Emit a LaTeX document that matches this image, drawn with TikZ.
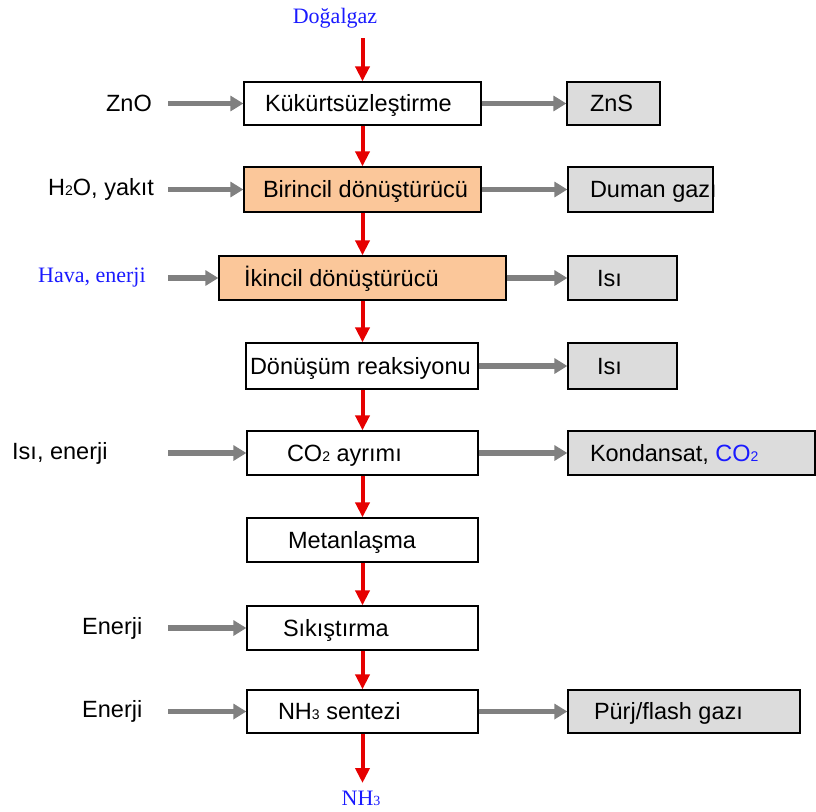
\documentclass[tikz,border=0pt]{standalone}
\usepackage{fontspec}
\setmainfont{Liberation Sans}
\newfontfamily\serifblue{Liberation Serif}
\usetikzlibrary{arrows.meta}
\definecolor{orng}{HTML}{FBC79A}
\definecolor{boxgray}{HTML}{DCDCDC}
\definecolor{arrgray}{HTML}{808080}
\definecolor{arrred}{HTML}{E60000}
\definecolor{txtblue}{HTML}{1A1AFF}
\newcommand\subdig[1]{{\fontsize{14}{14}\selectfont #1}}
\newcommand\padtext[3]{\makebox[#1pt][l]{\hspace*{#2pt}#3}}
\begin{document}
\begin{tikzpicture}[x=1pt,y=-1pt,
  box/.style={draw=black, line width=1.3pt, inner sep=0pt, minimum height=44pt,
    text height=19.5pt, text depth=3pt, font=\fontsize{23.5}{26}\selectfont},
  plain/.style={box, fill=white},
  hot/.style={box, fill=orng},
  outbox/.style={box, fill=boxgray},
  sidelabel/.style={inner sep=0pt, font=\fontsize{23.5}{26}\selectfont},
  bluelabel/.style={inner sep=0pt, text=txtblue, font=\serifblue\fontsize{22}{24}\selectfont},
  redarrow/.style={draw=arrred, line width=4pt, -{Triangle[length=15pt,width=14pt]}},
  grayarrow/.style={draw=arrgray, line width=5.5pt, -{Triangle[length=13pt,width=15pt]}}]
\useasboundingbox (0,0) rectangle (816,811);

% main column
\node[plain, minimum height=43pt] (b1) at (362.5,103.5) {\padtext{237}{21}{Kükürtsüzleştirme}};
\node[hot, minimum height=45pt] (b2) at (362.5,189.5) {\padtext{237}{19}{Birincil dönüştürücü}};
\node[hot] (b3) at (362.5,278) {\padtext{287}{25}{İkincil dönüştürücü}};
\node[plain, minimum height=46pt] (b4) at (362,366) {\padtext{232}{4}{Dönüşüm reaksiyonu}};
\node[plain] (b5) at (362.5,453) {\padtext{231}{40}{CO\subdig{2} ayrımı}};
\node[plain] (b6) at (362.5,540) {\padtext{231}{41}{Metanlaşma}};
\node[plain] (b7) at (362.5,628) {\padtext{231}{36}{Sıkıştırma}};
\node[plain, minimum height=43pt] (b8) at (362.5,711.5) {\padtext{231}{31}{NH\subdig{3} sentezi}};

% outputs
\node[outbox, minimum height=43pt] (r1) at (613.5,103.5) {\padtext{93}{23}{ZnS}};
\node[outbox, minimum height=45pt] (r2) at (640.5,189.5) {\padtext{145}{22}{Duman gazı}};
\node[outbox] (r3) at (622.5,278) {\padtext{109}{29}{Isı}};
\node[outbox, minimum height=46pt] (r4) at (622.5,366) {\padtext{109}{29}{Isı}};
\node[outbox] (r5) at (691.5,453) {\padtext{247}{22}{Kondansat, \textcolor{txtblue}{CO\subdig{2}}}};
\node[outbox, minimum height=43pt] (r8) at (684,711.5) {\padtext{232}{26}{Pürj/flash gazı}};

% inputs
\node[sidelabel, anchor=east] (l1) at (152,103.5) {ZnO};
\node[sidelabel, anchor=west] (l2) at (48,189.5) {H\subdig{2}O, yakıt};
\node[bluelabel, anchor=west] (l3) at (38,278) {Hava, enerji};
\node[sidelabel, anchor=west] (l5) at (12,453) {Isı, enerji};
\node[sidelabel, anchor=west] (l7) at (82,628) {Enerji};
\node[sidelabel, anchor=west] (l8) at (82,711.5) {Enerji};

\node[bluelabel] (top) at (335,18) {Doğalgaz};
\node[bluelabel] (bot) at (361,798) {NH\subdig{3}};

% free ends
\coordinate (rtop) at (362.5,38);
\coordinate (rbot) at (362.5,783);
\coordinate (s1) at (168,103.5);
\coordinate (s2) at (168,189.5);
\coordinate (s3) at (168,278);
\coordinate (s5) at (168,453);
\coordinate (s7) at (168,628);
\coordinate (s8) at (168,711.5);

% red flow
\draw[redarrow] (rtop) -- (b1.north);
\draw[redarrow] (b1.south) -- (b2.north);
\draw[redarrow] (b2.south) -- (b3.north);
\draw[redarrow] (b3.south) -- (b4.north -| b3.south);
\draw[redarrow] (b4.south -| b5.north) -- (b5.north);
\draw[redarrow] (b5.south) -- (b6.north);
\draw[redarrow] (b6.south) -- (b7.north);
\draw[redarrow] (b7.south) -- (b8.north);
\draw[redarrow] (b8.south) -- (rbot);

% gray inputs
\draw[grayarrow] (s1) -- (b1.west);
\draw[grayarrow] (s2) -- (b2.west);
\draw[grayarrow] (s3) -- (b3.west);
\draw[grayarrow] (s5) -- (b5.west);
\draw[grayarrow] (s7) -- (b7.west);
\draw[grayarrow] (s8) -- (b8.west);

% gray outputs
\draw[grayarrow] (b1.east) -- (r1.west);
\draw[grayarrow] (b2.east) -- (r2.west);
\draw[grayarrow] (b3.east) -- (r3.west);
\draw[grayarrow] (b4.east) -- (r4.west);
\draw[grayarrow] (b5.east) -- (r5.west);
\draw[grayarrow] (b8.east) -- (r8.west);
\end{tikzpicture}
\end{document}
